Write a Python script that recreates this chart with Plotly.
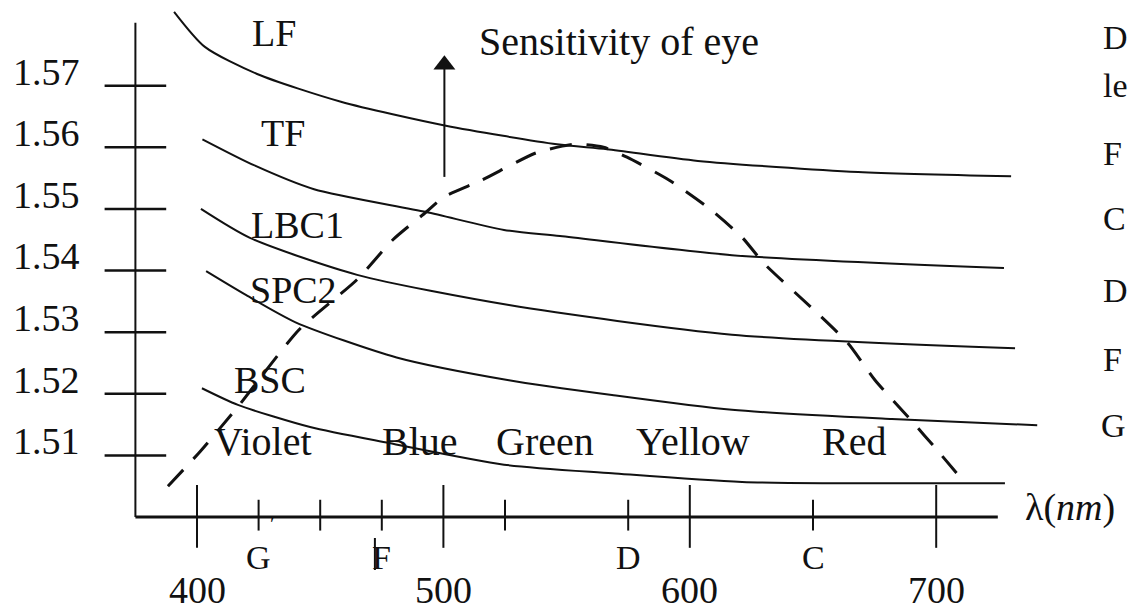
import plotly.graph_objects as go

FONT = "Liberation Serif, Times New Roman, serif"
INK = "#111111"

# ---------------- data ----------------
lf_wl = [390.7, 403.2, 424.4, 458.4, 501.0, 546.1, 566.4, 603.3, 668.3, 730.4]
lf_n = [1.5820, 1.5763, 1.5719, 1.5674, 1.5635, 1.5605, 1.5597, 1.5578, 1.5560, 1.5553]

tf_wl = [402.2, 423.1, 447.5, 493.0, 524.6, 547.3, 617.1, 727.5]
tf_n = [1.5613, 1.5571, 1.5532, 1.5495, 1.5466, 1.5456, 1.5425, 1.5404]

lbc1_wl = [401.6, 421.5, 465.0, 526.6, 617.1, 732.0]
lbc1_n = [1.5500, 1.5453, 1.5393, 1.5344, 1.5296, 1.5274]

spc2_wl = [403.7, 420.0, 440.0, 481.0, 526.6, 568.4, 617.1, 682.0, 741.0]
spc2_n = [1.5399, 1.5360, 1.5316, 1.5259, 1.5222, 1.5198, 1.5174, 1.5159, 1.5149]

bsc_wl = [402.0, 416.6, 445.9, 477.9, 524.6, 568.4, 621.2, 727.9]
bsc_n = [1.5209, 1.5182, 1.5146, 1.5120, 1.5085, 1.5071, 1.5057, 1.5055]

eye_wl = [388.2, 401.2, 416.6, 441.4, 464.9, 479.5, 493.0, 500.0, 515.7, 537.6,
          553.0, 565.0, 574.5, 591.5, 607.8, 621.2, 630.0, 650.4, 664.2, 675.2,
          689.8, 700.3, 711.7]
eye_n = [1.5050, 1.5106, 1.5179, 1.5304, 1.5385, 1.5450, 1.5495, 1.5519, 1.5547, 1.5591,
         1.5605, 1.5600, 1.5584, 1.5547, 1.5501, 1.5454, 1.5412, 1.5336, 1.5282, 1.5222,
         1.5157, 1.5109, 1.5055]

glass_names = ["LF", "TF", "LBC1", "SPC2", "BSC"]
glass_label_wl = [431.3, 434.9, 440.6, 439.0, 429.6]
glass_label_n = [1.5786, 1.5623, 1.5474, 1.5368, 1.5222]

color_names = ["Violet", "Blue", "Green", "Yellow", "Red"]
color_wl = [426.8, 490.5, 541.2, 601.3, 666.6]
color_n = 1.5122

y_ticks = [1.51, 1.52, 1.53, 1.54, 1.55, 1.56, 1.57]
y_tick_labels = ["1.51", "1.52", "1.53", "1.54", "1.55", "1.56", "1.57"]

x_major = [400, 500, 600, 700]
x_major_labels = ["400", "500", "600", "700"]
x_minor = [425, 450, 475, 525, 575, 650]

line_names = ["G", "F", "D", "C"]
line_wl = [425, 475, 575, 650]

axis_origin_wl = 375.0
axis_origin_n = 1.50
axis_end_wl = 725.0
axis_top_n = 1.5802

arrow_wl = 500.4
arrow_n = [1.5552, 1.5734]

side_texts = ["D", "le", "F", "C", "D", "F", "G"]
side_wl = [767.0, 767.0, 767.0, 767.0, 767.0, 767.0, 766.0]
side_n = [1.5779, 1.5700, 1.5590, 1.5485, 1.5368, 1.5255, 1.5149]

# ---------------- figure ----------------
fig = go.Figure()

for wl, n in [(lf_wl, lf_n), (tf_wl, tf_n), (lbc1_wl, lbc1_n), (spc2_wl, spc2_n), (bsc_wl, bsc_n)]:
    fig.add_trace(go.Scatter(x=wl, y=n, mode="lines",
                             line=dict(color=INK, width=2, shape="spline", smoothing=0.7),
                             hoverinfo="skip", showlegend=False))

fig.add_trace(go.Scatter(x=eye_wl, y=eye_n, mode="lines",
                         line=dict(color=INK, width=3, dash="22px,15px", shape="spline", smoothing=0.6),
                         hoverinfo="skip", showlegend=False))

# arrow (sensitivity of eye)
fig.add_trace(go.Scatter(x=[arrow_wl, arrow_wl], y=arrow_n, mode="lines",
                         line=dict(color=INK, width=2), hoverinfo="skip", showlegend=False))
fig.add_trace(go.Scatter(x=[arrow_wl], y=[arrow_n[1]], mode="markers",
                         marker=dict(symbol="triangle-up", size=19, color=INK),
                         hoverinfo="skip", showlegend=False))

shapes = []
L = dict(color=INK, width=2)
# axes
shapes.append(dict(type="line", xref="x", yref="y", x0=axis_origin_wl, x1=axis_origin_wl,
                   y0=axis_origin_n, y1=axis_top_n, line=L))
shapes.append(dict(type="line", xref="x", yref="y", x0=axis_origin_wl, x1=axis_end_wl,
                   y0=axis_origin_n, y1=axis_origin_n, line=dict(color=INK, width=3)))
# y ticks
for v in y_ticks:
    shapes.append(dict(type="line", xref="x", yref="y", x0=axis_origin_wl - 12.5, x1=axis_origin_wl + 12.5,
                       y0=v, y1=v, line=dict(color=INK, width=2.5)))
# x ticks
for w in x_major:
    shapes.append(dict(type="line", xref="x", yref="y", x0=w, x1=w,
                       y0=axis_origin_n - 0.0050, y1=axis_origin_n + 0.0052, line=L))
for w in x_minor:
    shapes.append(dict(type="line", xref="x", yref="y", x0=w, x1=w,
                       y0=axis_origin_n - 0.0022, y1=axis_origin_n + 0.0028, line=L))
# stroke through the F label
shapes.append(dict(type="line", xref="x", yref="y", x0=line_wl[1] - 2.8, x1=line_wl[1] - 2.8,
                   y0=1.4914, y1=1.4966, line=L))

ann = []
def txt(x, y, s, size=38, xanchor="center", yanchor="middle"):
    ann.append(dict(x=x, y=y, xref="x", yref="y", text=s, showarrow=False,
                    xanchor=xanchor, yanchor=yanchor,
                    font=dict(family=FONT, size=size, color=INK)))

for v, s in zip(y_ticks, y_tick_labels):
    txt(353.3, v + 0.0023, s, xanchor="right")
for w, s in zip(x_major, x_major_labels):
    txt(w, 1.48443, s, yanchor="bottom")
for w, s in zip(line_wl, line_names):
    txt(w, 1.4935, s, size=34)
txt(430.8, 1.4990, "′", size=22)

for s, w, v in zip(glass_names, glass_label_wl, glass_label_n):
    txt(w, v, s)
for s, w in zip(color_names, color_wl):
    txt(w, color_n, s, size=40)

txt(513.6, 1.5771, "Sensitivity of eye", size=40, xanchor="left")
txt(735.2, 1.5016, "λ(<i>nm</i>)", size=38, xanchor="left")

for s, w, v in zip(side_texts, side_wl, side_n):
    txt(w, v, s, size=34, xanchor="left")

fig.update_layout(
    width=1130, height=614,
    margin=dict(l=0, r=0, t=0, b=0),
    paper_bgcolor="white", plot_bgcolor="white",
    xaxis=dict(range=[320.05, 778.65], visible=False, fixedrange=True),
    yaxis=dict(range=[1.48426, 1.58391], visible=False, fixedrange=True),
    shapes=shapes, annotations=ann, showlegend=False,
)

fig.write_html("out.html")
